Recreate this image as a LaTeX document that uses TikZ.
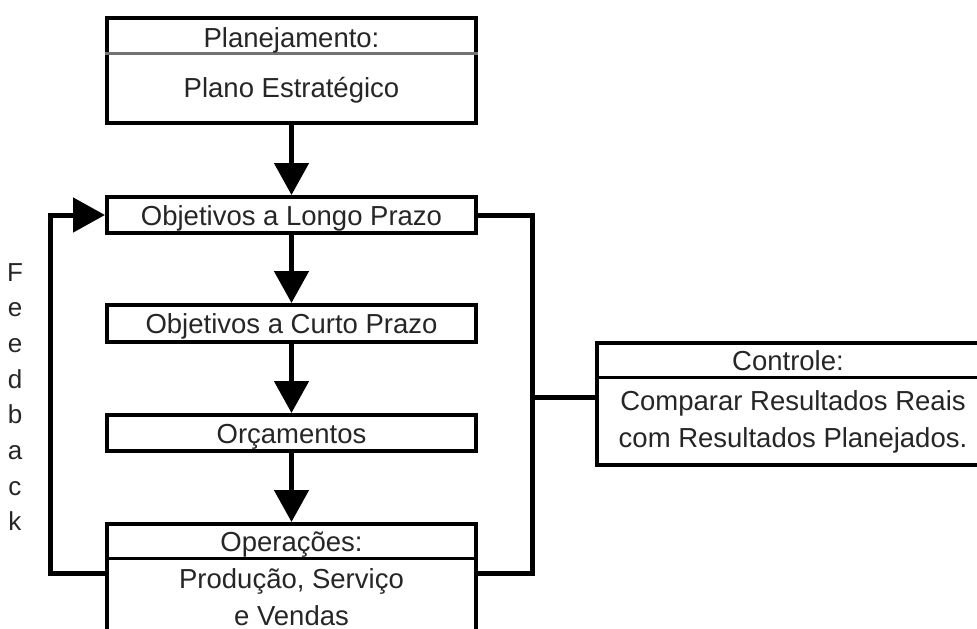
\documentclass[tikz,border=0pt]{standalone}
\usepackage{fontspec}
\setmainfont{Liberation Sans}
\usetikzlibrary{arrows.meta}
\begin{document}
\begin{tikzpicture}[x=1pt,y=-1pt,
  box/.style={draw=black, line width=4pt, fill=white, inner sep=0pt},
  txt/.style={anchor=base, inner sep=0pt, text=black!85,
    font=\fontsize{27.5}{37}\selectfont},
  divider/.style={line width=3pt},
  flow/.style={line width=5pt, -{Triangle[length=32pt,width=34pt]}},
  link/.style={line width=5pt},
]
\useasboundingbox (0,0) rectangle (977,629);
\clip (0,0) rectangle (977,629);

% main column of boxes
\node[box, minimum width=369pt, minimum height=105pt] (plan)  at (291.5,70.5) {};
\node[box, minimum width=369pt, minimum height=36pt]  (longo) at (291.5,215)  {};
\node[box, minimum width=369pt, minimum height=37pt]  (curto) at (291.5,323.5) {};
\node[box, minimum width=369pt, minimum height=36pt]  (orc)   at (291.5,433)  {};
\node[box, minimum width=369pt, minimum height=126pt] (oper)  at (291.5,587)  {};
% control box on the right
\node[box, minimum width=388pt, minimum height=122pt] (ctrl)  at (791,404)    {};

% header dividers
\draw[divider, black!55] (plan.west |- 0,53)  -- (plan.east |- 0,53);
\draw[divider]           (oper.west |- 0,558) -- (oper.east |- 0,558);
\draw[divider]           (ctrl.west |- 0,377) -- (ctrl.east |- 0,377);

% texts
\node[txt] (planT)  at (291.5,47)  {Planejamento:};
\node[txt] (planB)  at (291.5,97)  {Plano Estratégico};
\node[txt] (longoT) at (291.5,225) {Objetivos a Longo Prazo};
\node[txt] (curtoT) at (291.5,333.5) {Objetivos a Curto Prazo};
\node[txt] (orcT)   at (291.5,443) {Orçamentos};
\node[txt] (operT)  at (291.5,551) {Operações:};
\node[txt] (operB1) at (291.5,588) {Produção, Serviço};
\node[txt] (operB2) at (291.5,625) {e Vendas};
\node[txt] (ctrlT)  at (788,370)   {Controle:};
\node[txt] (ctrlB1) at (793,410)   {Comparar Resultados Reais};
\node[txt] (ctrlB2) at (793,447)   {com Resultados Planejados.};

% vertical "Feedback" label
\foreach \l [count=\i] in {F,e,e,d,b,a,c,k}
  \node[txt, font=\fontsize{26}{30}\selectfont] (fb\i) at (15,{281+35.7*(\i-1)}) {\l};

% flow arrows down the column
\draw[flow] (plan) -- (longo);
\draw[flow] (longo) -- (curto);
\draw[flow] (curto) -- (orc);
\draw[flow] (orc) -- (oper);

% feedback loop on the left
\coordinate (fbbot) at (50,573);
\draw[flow] (fbbot -| oper.west) -- (fbbot) |- (longo.west);

% control loop on the right
\coordinate (rbot) at (532,573);
\coordinate (rmid) at (532,397);
\draw[link] (longo.east) -| (rbot) -- (rbot -| oper.east);
\draw[link] (rmid) -- (rmid -| ctrl.west);
\end{tikzpicture}
\end{document}
